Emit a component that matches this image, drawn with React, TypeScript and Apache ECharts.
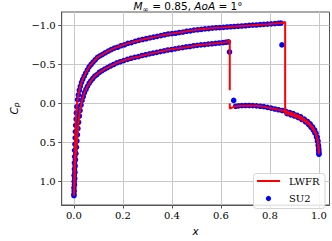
import React, { useEffect, useRef } from 'react';
import * as echarts from 'echarts';

const xTicks = [0.0, 0.2, 0.4, 0.6, 0.8, 1.0];
const yTicks = [-1.0, -0.5, 0.0, 0.5, 1.0];
const legendNames = ['LWFR', 'SU2'];

// LWFR (line) – upper surface
const lwfrUpper: [number, number][] = [
  [0.000, 1.18], [0.001, 1.10], [0.001, 1.00], [0.002, 0.90], [0.002, 0.80], [0.003, 0.70], [0.004, 0.60],
  [0.005, 0.50], [0.006, 0.40], [0.007, 0.30], [0.008, 0.20], [0.010, 0.10], [0.012, 0.02], [0.015, -0.05],
  [0.018, -0.11], [0.022, -0.17], [0.026, -0.22], [0.031, -0.27], [0.036, -0.31], [0.042, -0.35], [0.048, -0.39],
  [0.055, -0.43], [0.062, -0.47], [0.070, -0.50], [0.078, -0.53], [0.087, -0.56], [0.096, -0.59], [0.106, -0.61],
  [0.117, -0.63], [0.128, -0.65], [0.140, -0.67], [0.165, -0.71], [0.192, -0.74], [0.220, -0.77], [0.250, -0.795],
  [0.280, -0.82], [0.310, -0.84], [0.340, -0.86], [0.370, -0.88], [0.400, -0.895], [0.430, -0.91], [0.460, -0.925],
  [0.490, -0.94], [0.520, -0.95], [0.550, -0.96], [0.580, -0.97], [0.610, -0.975], [0.640, -0.983], [0.670, -0.99],
  [0.700, -0.996], [0.730, -1.003], [0.760, -1.01], [0.790, -1.016], [0.820, -1.024], [0.845, -1.03], [0.862, -1.045],
  [0.862, 0.13], [0.875, 0.135], [0.890, 0.15], [0.905, 0.17], [0.920, 0.19], [0.935, 0.215], [0.950, 0.245],
  [0.962, 0.28], [0.972, 0.315], [0.980, 0.35], [0.987, 0.39], [0.992, 0.44], [0.996, 0.50], [0.998, 0.56], [1.000, 0.63],
];

// LWFR – lower surface, front part up to the shock
const lwfrLowerFront: [number, number][] = [
  [0.000, 1.18], [0.002, 1.04], [0.004, 0.88], [0.006, 0.72], [0.010, 0.56], [0.014, 0.40], [0.019, 0.24],
  [0.025, 0.09], [0.033, -0.04], [0.043, -0.14], [0.055, -0.22], [0.069, -0.29], [0.085, -0.35], [0.104, -0.40],
  [0.125, -0.44], [0.149, -0.48], [0.175, -0.52], [0.203, -0.55], [0.233, -0.58], [0.263, -0.60], [0.293, -0.625],
  [0.323, -0.645], [0.353, -0.665], [0.383, -0.685], [0.413, -0.70], [0.443, -0.715], [0.473, -0.73], [0.503, -0.745],
  [0.533, -0.755], [0.563, -0.765], [0.593, -0.775], [0.620, -0.785], [0.636, -0.81], [0.636, -0.17],
];

// LWFR – lower surface, aft part after the shock
const lwfrLowerAft: [number, number][] = [
  [0.636, 0.0], [0.636, 0.065], [0.648, 0.05], [0.660, 0.035], [0.685, 0.028], [0.715, 0.025], [0.745, 0.03],
  [0.775, 0.04], [0.805, 0.06], [0.835, 0.08], [0.865, 0.10], [0.895, 0.13], [0.925, 0.17], [0.953, 0.23],
  [0.974, 0.30], [0.988, 0.38], [0.996, 0.48], [0.999, 0.58], [1.000, 0.65],
];

// SU2 (dots) – upper surface
const su2Upper: [number, number][] = [
  [0.000, 1.16], [0.000, 1.08], [0.001, 1.00], [0.001, 0.92], [0.002, 0.84], [0.002, 0.76], [0.003, 0.68],
  [0.003, 0.60], [0.004, 0.52], [0.005, 0.44], [0.006, 0.36], [0.007, 0.28], [0.009, 0.20], [0.010, 0.12],
  [0.012, 0.04], [0.015, -0.05], [0.018, -0.11], [0.022, -0.17], [0.026, -0.22], [0.031, -0.27], [0.036, -0.31],
  [0.042, -0.35], [0.048, -0.39], [0.055, -0.43], [0.062, -0.47], [0.070, -0.50], [0.078, -0.53], [0.087, -0.56],
  [0.096, -0.59], [0.106, -0.61], [0.117, -0.63], [0.128, -0.65], [0.140, -0.67], [0.152, -0.69], [0.165, -0.71],
  [0.178, -0.72], [0.192, -0.74], [0.206, -0.75], [0.220, -0.77], [0.235, -0.78], [0.250, -0.795], [0.265, -0.81],
  [0.280, -0.82], [0.295, -0.83], [0.310, -0.84], [0.325, -0.85], [0.340, -0.86], [0.355, -0.87], [0.370, -0.88],
  [0.385, -0.89], [0.400, -0.895], [0.415, -0.90], [0.430, -0.91], [0.445, -0.915], [0.460, -0.925], [0.475, -0.93],
  [0.490, -0.94], [0.505, -0.945], [0.520, -0.95], [0.535, -0.955], [0.550, -0.96], [0.565, -0.965], [0.580, -0.97],
  [0.595, -0.972], [0.610, -0.975], [0.625, -0.98], [0.640, -0.983], [0.655, -0.986], [0.670, -0.99], [0.685, -0.993],
  [0.700, -0.996], [0.715, -1.0], [0.730, -1.003], [0.745, -1.006], [0.760, -1.01], [0.775, -1.013], [0.790, -1.016],
  [0.805, -1.02], [0.820, -1.024], [0.835, -1.028], [0.845, -1.03], [0.849, -0.75],
  [0.870, 0.13], [0.885, 0.145], [0.900, 0.16], [0.915, 0.18], [0.930, 0.205], [0.945, 0.235], [0.958, 0.27],
  [0.968, 0.305], [0.977, 0.34], [0.984, 0.38], [0.990, 0.43], [0.994, 0.48], [0.997, 0.53], [0.999, 0.58], [1.000, 0.63],
];

// SU2 (dots) – lower surface
const su2Lower: [number, number][] = [
  [0.000, 1.18], [0.001, 1.12], [0.002, 1.04], [0.003, 0.96], [0.004, 0.88], [0.005, 0.80], [0.006, 0.72],
  [0.008, 0.64], [0.010, 0.56], [0.012, 0.48], [0.014, 0.40], [0.016, 0.32], [0.019, 0.24], [0.022, 0.16],
  [0.025, 0.09], [0.029, 0.02], [0.033, -0.04], [0.038, -0.09], [0.043, -0.14], [0.049, -0.18], [0.055, -0.22],
  [0.062, -0.26], [0.069, -0.29], [0.077, -0.32], [0.085, -0.35], [0.094, -0.37], [0.104, -0.40], [0.114, -0.42],
  [0.125, -0.44], [0.137, -0.46], [0.149, -0.48], [0.162, -0.50], [0.175, -0.52], [0.189, -0.535], [0.203, -0.55],
  [0.218, -0.565], [0.233, -0.58], [0.248, -0.59], [0.263, -0.60], [0.278, -0.615], [0.293, -0.625], [0.308, -0.635],
  [0.323, -0.645], [0.338, -0.655], [0.353, -0.665], [0.368, -0.675], [0.383, -0.685], [0.398, -0.69], [0.413, -0.70],
  [0.428, -0.71], [0.443, -0.715], [0.458, -0.725], [0.473, -0.73], [0.488, -0.74], [0.503, -0.745], [0.518, -0.75],
  [0.533, -0.755], [0.548, -0.76], [0.563, -0.765], [0.578, -0.77], [0.593, -0.775], [0.608, -0.78], [0.620, -0.785],
  [0.630, -0.79], [0.635, -0.66], [0.652, -0.04],
  [0.660, 0.035], [0.672, 0.03], [0.685, 0.028], [0.700, 0.025], [0.715, 0.025], [0.730, 0.027], [0.745, 0.03],
  [0.760, 0.035], [0.775, 0.04], [0.790, 0.05], [0.805, 0.06], [0.820, 0.07], [0.835, 0.08], [0.850, 0.09],
  [0.865, 0.10], [0.880, 0.115], [0.895, 0.13], [0.910, 0.15], [0.925, 0.17], [0.940, 0.20], [0.953, 0.23],
  [0.964, 0.26], [0.974, 0.30], [0.982, 0.34], [0.988, 0.38], [0.993, 0.43], [0.996, 0.48], [0.998, 0.54],
  [0.999, 0.60], [1.000, 0.65],
];

const RED = '#ff0000';
const BLUE = '#0000ff';
const SERIF = '"DejaVu Serif", serif';
const SANS = '"DejaVu Sans", sans-serif';
const fmt = (v: number) => v.toFixed(1).replace('-', '\u2212');

export default function App() {
  const ref = useRef<HTMLDivElement>(null);
  useEffect(() => {
    if (!ref.current) return;
    const chart = echarts.init(ref.current, null, { renderer: 'svg' });
    const lineSeries = (name: string, data: [number, number][]) => ({
      name,
      type: 'line',
      data,
      showSymbol: false,
      symbol: 'none',
      lineStyle: { color: RED, width: 2 },
      itemStyle: { color: RED },
      z: 3,
      silent: true,
    });
    const dotSeries = (name: string, data: [number, number][]) => ({
      name,
      type: 'scatter',
      data,
      symbol: 'circle',
      symbolSize: 5.6,
      itemStyle: { color: BLUE, opacity: 1 },
      z: 2,
      silent: true,
    });
    chart.setOption({
      animation: false,
      backgroundColor: '#ffffff',
      grid: {
        left: 47,
        right: 2.5,
        top: 12,
        bottom: 28,
        show: true,
        borderColor: '#555555',
        borderWidth: 1,
        backgroundColor: 'transparent',
      },
      xAxis: {
        type: 'value',
        min: -0.05,
        max: 1.043,
        name: 'x',
        nameLocation: 'middle',
        nameGap: 20,
        nameTextStyle: { fontFamily: SANS, fontStyle: 'italic', fontSize: 10.5, color: '#000' },
        axisLine: { show: true, onZero: false, lineStyle: { color: '#555555', width: 1 } },
        axisTick: { show: true, length: 3.5, customValues: xTicks, lineStyle: { color: '#555555' } },
        axisLabel: { customValues: xTicks, formatter: fmt, fontFamily: SERIF, fontSize: 10, color: '#000', margin: 5 },
        splitLine: { show: true, lineStyle: { color: '#c8c8c8', width: 1 } },
      },
      yAxis: {
        type: 'value',
        inverse: true,
        min: -1.172,
        max: 1.3,
        name: '{i|C}{s|p}',
        nameLocation: 'middle',
        nameGap: 34,
        nameRotate: 90,
        nameTextStyle: {
          rich: {
            i: { fontFamily: SANS, fontStyle: 'italic', fontSize: 10.5, color: '#000' },
            s: { fontFamily: SANS, fontStyle: 'italic', fontSize: 7.5, color: '#000', verticalAlign: 'bottom', padding: [6, 0, 0, 0] },
          },
        },
        axisLine: { show: true, onZero: false, lineStyle: { color: '#555555', width: 1 } },
        axisTick: { show: true, length: 3.5, customValues: yTicks, lineStyle: { color: '#555555' } },
        axisLabel: { customValues: yTicks, formatter: fmt, fontFamily: SERIF, fontSize: 10, color: '#000', margin: 6 },
        splitLine: { show: true, lineStyle: { color: '#c8c8c8', width: 1 } },
      },
      series: [
        dotSeries('SU2', su2Upper),
        dotSeries('SU2', su2Lower),
        lineSeries('LWFR', lwfrUpper),
        lineSeries('LWFR', lwfrLowerFront),
        lineSeries('LWFR', lwfrLowerAft),
      ],
      graphic: [
        {
          type: 'text',
          x: 188,
          y: 6,
          style: {
            text: '{i|M}{s|\u221e} = 0.85, {i|AoA} = 1°',
            fontFamily: SANS,
            fontSize: 10.5,
            fill: '#000',
            align: 'center',
            verticalAlign: 'middle',
            rich: {
              i: { fontFamily: SANS, fontStyle: 'italic', fontSize: 10.5 },
              s: { fontFamily: SANS, fontStyle: 'italic', fontSize: 7.5, padding: [6, 0, 0, 0] },
            },
          },
        },
        {
          type: 'group',
          children: [
            {
              type: 'rect',
              shape: { x: 253.5, y: 173.5, width: 71.5, height: 35, r: 3 },
              style: { fill: 'rgba(255,255,255,0.85)', stroke: '#d5d5d5', lineWidth: 1 },
              z: 10,
            },
            {
              type: 'line',
              shape: { x1: 257, y1: 181, x2: 280, y2: 181 },
              style: { stroke: RED, lineWidth: 2 },
              z: 11,
            },
            {
              type: 'circle',
              shape: { cx: 268.5, cy: 198.5, r: 2.6 },
              style: { fill: BLUE },
              z: 11,
            },
            {
              type: 'text',
              x: 289,
              y: 181.5,
              style: { text: legendNames[0], fontFamily: SERIF, fontSize: 10, fill: '#000', verticalAlign: 'middle' },
              z: 11,
            },
            {
              type: 'text',
              x: 289,
              y: 198.5,
              style: { text: legendNames[1], fontFamily: SERIF, fontSize: 10, fill: '#000', verticalAlign: 'middle' },
              z: 11,
            },
          ],
        },
      ],
    });
    return () => chart.dispose();
  }, []);
  return <div ref={ref} style={{ position: 'fixed', left: 0, top: 0, width: 332, height: 241 }} />;
}
